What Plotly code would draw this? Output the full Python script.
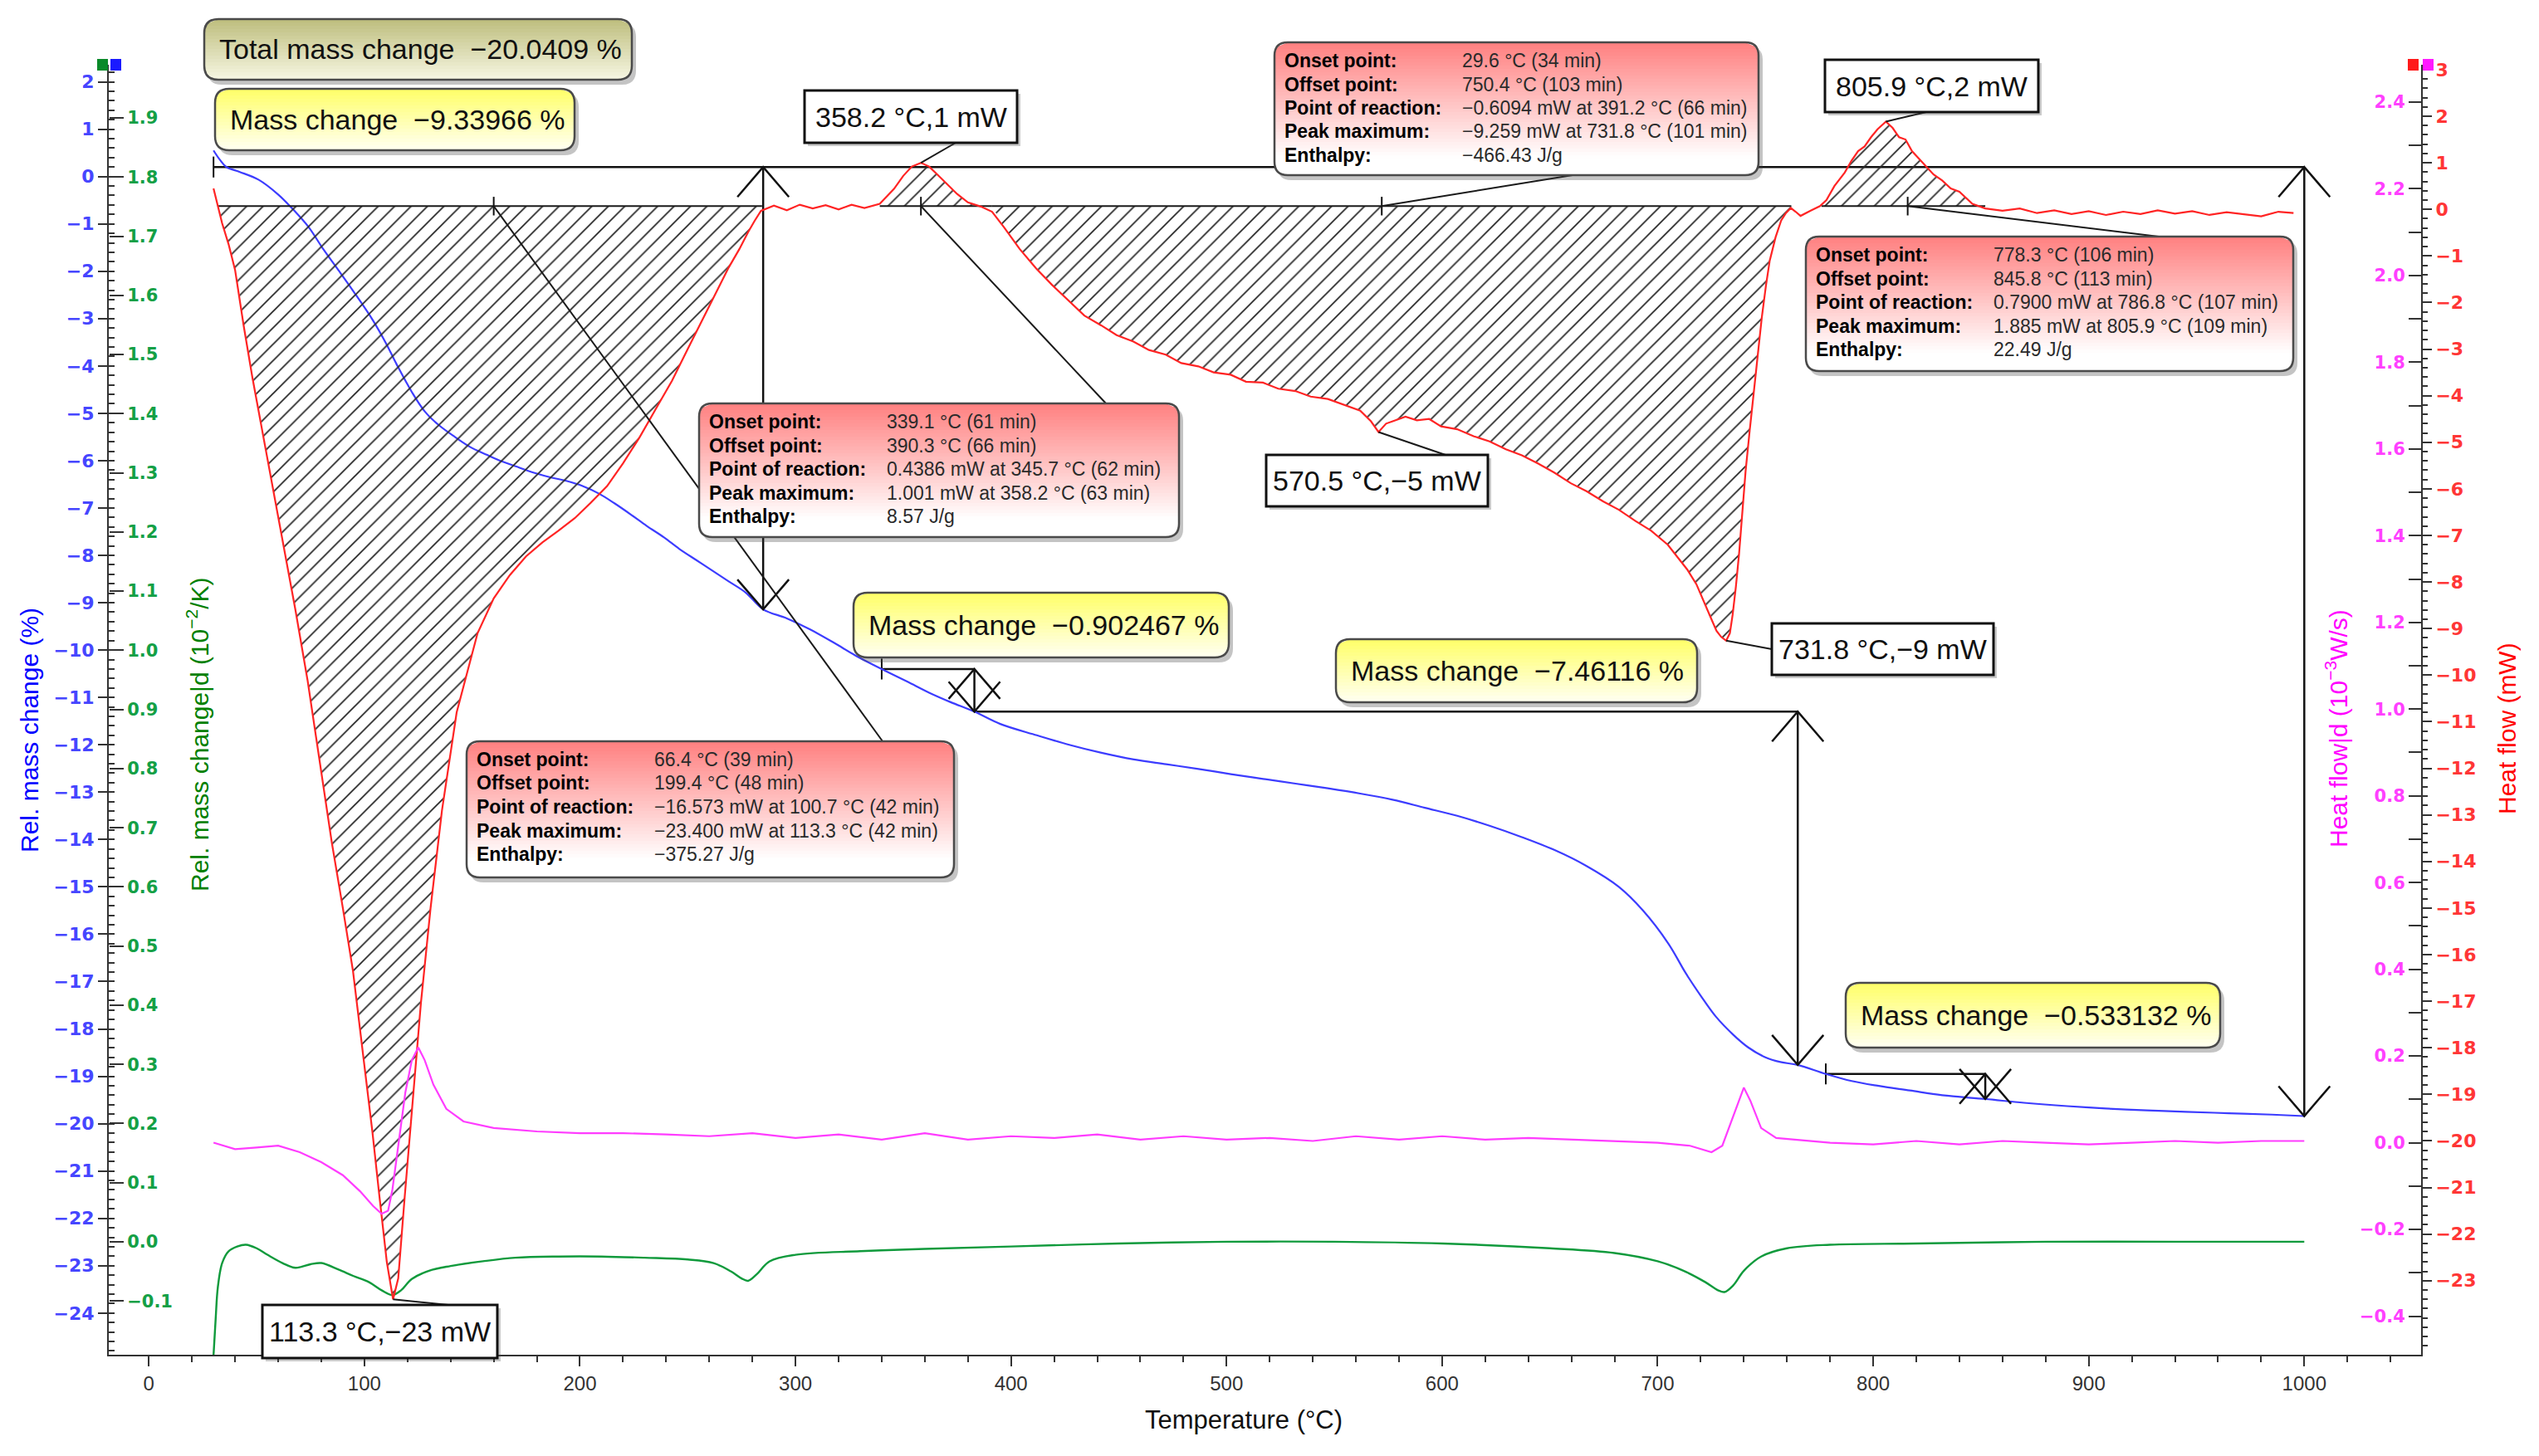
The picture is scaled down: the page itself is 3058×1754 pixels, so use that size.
import math
import plotly.graph_objects as go

W, H = 3058, 1754
PL, PR, PT, PB = 131, 2916, 78, 1632   # plot area in pixels

X_RANGE = [-18.6, 1054.2]
MASS_RANGE = [-24.88, 2.36]
DTG_RANGE = [-0.191, 1.990]
HF_RANGE = [-24.59, 3.105]
DHF_RANGE = [-0.489, 2.486]

# ---------------- data ----------------
TG_T = [30, 33, 36, 42, 51, 60, 66, 74, 81, 88,
        95, 104, 110, 115, 122, 128, 134, 142, 149, 157,
        164, 172, 179, 187, 194, 201, 209, 216, 224, 231,
        239, 246, 254, 262, 269, 277, 285, 296, 307, 318,
        328, 340, 352, 362, 372, 383, 395, 412, 427, 442,
        457, 472, 487, 502, 517, 532, 547, 562, 577, 592,
        607, 622, 637, 652, 667, 682, 693, 705, 713, 720,
        727, 735, 742, 750, 757, 765, 778, 790, 802, 817,
        832, 852, 870, 890, 908, 927, 945, 965, 985, 1000]
TG_V = [0.55, 0.35, 0.2, 0.1, -0.07, -0.38, -0.65, -1.06, -1.54, -1.98,
        -2.43, -3.04, -3.52, -3.97, -4.55, -4.96, -5.23, -5.5, -5.71, -5.88,
        -6.02, -6.15, -6.26, -6.36, -6.43, -6.53, -6.7, -6.9, -7.15, -7.38,
        -7.62, -7.86, -8.1, -8.34, -8.55, -8.79, -9.14, -9.33, -9.57, -9.85,
        -10.12, -10.4, -10.67, -10.9, -11.1, -11.3, -11.56, -11.8, -12.0, -12.17,
        -12.31, -12.41, -12.51, -12.62, -12.72, -12.82, -12.92, -13.03, -13.16, -13.33,
        -13.5, -13.71, -13.95, -14.22, -14.56, -15.0, -15.49, -16.2, -16.82, -17.3,
        -17.74, -18.12, -18.39, -18.6, -18.7, -18.76, -18.95, -19.1, -19.2, -19.3,
        -19.4, -19.48, -19.56, -19.63, -19.68, -19.72, -19.75, -19.78, -19.81, -19.84]

DTG_T = [30, 31, 32, 34, 37, 41, 45, 50, 55, 62,
         68, 75, 80, 88, 95, 102, 108, 113, 117, 122,
         130, 140, 155, 170, 190, 210, 230, 250, 262, 270,
         275, 278, 282, 288, 300, 330, 360, 400, 450, 500,
         550, 600, 650, 680, 700, 712, 722, 728, 731, 735,
         740, 748, 760, 780, 820, 880, 940, 1000]
DTG_V = [-0.192, -0.13, -0.077, -0.036, -0.016, -0.008, -0.005, -0.011, -0.022, -0.036,
         -0.044, -0.038, -0.036, -0.047, -0.058, -0.068, -0.082, -0.09, -0.082, -0.063,
         -0.049, -0.041, -0.033, -0.027, -0.025, -0.025, -0.027, -0.03, -0.036, -0.05,
         -0.062, -0.066, -0.055, -0.033, -0.022, -0.016, -0.012, -0.008, -0.003, 0.0,
         0.0, -0.003, -0.011, -0.019, -0.033, -0.049, -0.068, -0.082, -0.085, -0.074,
         -0.049, -0.025, -0.011, -0.005, -0.003, 0.0, 0.0, 0.0]

HF_T = [30, 32, 34, 37, 40, 44, 48, 52, 56, 60,
        64, 68, 73.6, 79, 84.9, 90, 94.7, 99, 103.7, 107,
        110.4, 113.3, 115.7, 118.7, 122.5, 126.2, 130.7, 136, 142.8, 152.5,
        160, 167.5, 175, 182.6, 190, 197.6, 205, 212.6, 220, 227.6,
        235, 242.7, 250, 257.7, 264, 269, 274, 278, 281, 284,
        290, 296, 302, 308, 314, 320, 326, 332, 339.1, 345.7,
        350, 354, 358.2, 362, 366, 370, 375, 380, 386, 391.2,
        396.7, 404, 411.7, 419, 426.7, 434, 441.8, 449, 456.8, 464,
        471.8, 479, 486.9, 494, 501.9, 509, 516.9, 524, 531.9, 539,
        547, 555, 562, 567, 570.5, 574, 578.5, 583, 588.3, 594,
        599.5, 607, 614.6, 622, 629.6, 637, 644.6, 652, 659.7, 667,
        674.7, 682, 689.7, 697, 704.7, 709, 713.7, 718, 721.3, 724.5,
        727.3, 729.5, 731.8, 733.5, 734.8, 736.3, 737.8, 739.3, 740.8, 742.7,
        744.6, 746.5, 748.3, 750.2, 752, 754.7, 757.3, 759.5, 761.8, 764,
        766.3, 770.8, 775.3, 778.3, 782, 786.8, 790, 793, 796, 799,
        802, 805.9, 809, 812, 815, 818, 821, 824, 828, 832,
        836, 840, 846, 852, 860, 868, 876, 884, 892, 900,
        908, 916, 924, 932, 940, 948, 956, 964, 972, 980,
        988, 995]
HF_MW = [0.45, 0.1, -0.3, -0.75, -1.3, -2.5, -3.6, -4.6, -5.6, -6.6,
         -7.6, -8.6, -10.1, -11.8, -13.6, -15.0, -16.35, -18.0, -19.8, -21.2,
         -22.6, -23.4, -22.95, -21.2, -19.1, -17.05, -15.0, -12.9, -10.8, -9.1,
         -8.35, -7.85, -7.45, -7.15, -6.9, -6.63, -6.3, -5.94, -5.45, -4.9,
         -4.3, -3.68, -3.0, -2.29, -1.7, -1.25, -0.85, -0.49, -0.25, -0.03,
         0.08, -0.02, 0.1, 0.02, 0.09, 0.0, 0.1, 0.03, 0.12, 0.44,
         0.72, 0.92, 1.0, 0.92, 0.74, 0.55, 0.33, 0.15, 0.06, -0.05,
         -0.38, -0.85, -1.27, -1.62, -1.96, -2.28, -2.49, -2.7, -2.84, -3.02,
         -3.12, -3.3, -3.37, -3.5, -3.55, -3.7, -3.72, -3.85, -3.9, -4.02,
         -4.07, -4.2, -4.32, -4.55, -4.78, -4.6, -4.53, -4.45, -4.53, -4.5,
         -4.66, -4.72, -4.87, -4.98, -5.15, -5.28, -5.46, -5.65, -5.88, -6.05,
         -6.27, -6.45, -6.69, -6.9, -7.2, -7.45, -7.73, -8.05, -8.42, -8.75,
         -9.05, -9.18, -9.26, -9.1, -8.7, -8.1, -7.38, -6.5, -5.62, -4.75,
         -3.89, -3.05, -2.33, -1.65, -1.1, -0.6, -0.24, -0.08, 0.03, -0.05,
         -0.14, -0.03, 0.07, 0.2, 0.5, 0.79, 1.05, 1.25, 1.35, 1.55,
         1.72, 1.885, 1.75, 1.55, 1.5, 1.25, 1.1, 0.95, 0.75, 0.62,
         0.45, 0.38, 0.12, 0.02, -0.03, 0.02, -0.08, -0.02, -0.1, -0.04,
         -0.12, -0.05, -0.1, -0.02, -0.09, -0.04, -0.12, -0.06, -0.1, -0.15,
         -0.05, -0.08]

DHF_T = [30, 35, 40, 50, 60, 70, 80, 90, 98, 104,
         108, 111, 113, 116, 119, 122, 125, 128, 132, 138,
         146, 160, 180, 200, 220, 240, 260, 280, 300, 320,
         340, 360, 380, 400, 420, 440, 460, 480, 500, 520,
         540, 560, 580, 600, 620, 640, 660, 680, 700, 715,
         725, 730, 735, 740, 743, 748, 755, 765, 780, 800,
         820, 840, 860, 880, 900, 920, 940, 960, 980, 1000]
DHF_V = [0.0, -0.007, -0.015, -0.011, -0.007, -0.022, -0.045, -0.075, -0.112, -0.146,
         -0.164, -0.157, -0.108, 0.004, 0.116, 0.19, 0.22, 0.19, 0.134, 0.078,
         0.049, 0.034, 0.026, 0.022, 0.022, 0.019, 0.015, 0.022, 0.011, 0.019,
         0.007, 0.022, 0.007, 0.015, 0.011, 0.019, 0.007, 0.015, 0.007, 0.011,
         0.004, 0.015, 0.007, 0.015, 0.007, 0.011, 0.007, 0.004, 0.0, -0.007,
         -0.022, -0.007, 0.06, 0.127, 0.097, 0.034, 0.011, 0.007, 0.0, -0.004,
         0.004, -0.004, 0.004, 0.0, -0.004, 0.0, 0.004, 0.0, 0.004, 0.004]

# DSC peak integration
HF_BASELINE = 0.07
HATCH_REGIONS = [(32, 284.5), (339.1, 391.2), (391.2, 762), (776, 852)]
PEAK_ANCHOR_T = [358.2, 572, 816, 160]       # where the result boxes point to

# TG step evaluation (rel. mass change %)
GUIDE_LINES = [(30, 1000, 0.2), (340, 383, -10.4), (383, 765, -11.3), (778, 852, -18.95)]
STEP_ARROWS = [(285, 0.2, -9.14), (383, -10.4, -11.3), (765, -11.3, -18.76),
               (852, -18.95, -19.48), (1000, 0.2, -19.84)]
GUIDE_TICK_T = [30, 340, 778]
GUIDE_TICK_V = [0.2, -10.4, -18.95]

MASS_LABELS = ["Total mass change\u00a0 \u221220.0409 %", "Mass change\u00a0 \u22129.33966 %",
               "Mass change\u00a0 \u22120.902467 %", "Mass change\u00a0 \u22127.46116 %",
               "Mass change\u00a0 \u22120.533132 %"]

PEAK_TEXT = ["358.2 \u00b0C,1 mW", "570.5 \u00b0C,\u22125 mW", "805.9 \u00b0C,2 mW",
             "731.8 \u00b0C,\u22129 mW", "113.3 \u00b0C,\u221223 mW"]
PEAK_T = [358.2, 570.5, 805.9, 731.8, 113.3]
PEAK_MW = [1.0, -4.78, 1.885, -9.26, -23.4]

ROW_LABELS = ["Onset point:", "Offset point:", "Point of reaction:", "Peak maximum:", "Enthalpy:"]
RESULT_A = ["339.1 \u00b0C (61 min)", "390.3 \u00b0C (66 min)", "0.4386 mW at 345.7 \u00b0C (62 min)",
            "1.001 mW at 358.2 \u00b0C (63 min)", "8.57 J/g"]
RESULT_B = ["29.6 \u00b0C (34 min)", "750.4 \u00b0C (103 min)", "\u22120.6094 mW at 391.2 \u00b0C (66 min)",
            "\u22129.259 mW at 731.8 \u00b0C (101 min)", "\u2212466.43 J/g"]
RESULT_C = ["778.3 \u00b0C (106 min)", "845.8 \u00b0C (113 min)", "0.7900 mW at 786.8 \u00b0C (107 min)",
            "1.885 mW at 805.9 \u00b0C (109 min)", "22.49 J/g"]
RESULT_D = ["66.4 \u00b0C (39 min)", "199.4 \u00b0C (48 min)", "\u221216.573 mW at 100.7 \u00b0C (42 min)",
            "\u221223.400 mW at 113.3 \u00b0C (42 min)", "\u2212375.27 J/g"]

# ---------------- layout helpers (pixel positions of decorations) ----------------
def fx(px):
    return px / W

def fy(py):
    return 1 - py / H

def d2px_x(t):
    return PL + (t - X_RANGE[0]) / (X_RANGE[1] - X_RANGE[0]) * (PR - PL)

def d2px_y(v, rng):
    return PB - (v - rng[0]) / (rng[1] - rng[0]) * (PB - PT)

def lerp_color(c0, c1, t):
    t = max(0.0, min(1.0, t))
    a = [int(c0[i:i + 2], 16) for i in (1, 3, 5)]
    b = [int(c1[i:i + 2], 16) for i in (1, 3, 5)]
    return 'rgb(%d,%d,%d)' % tuple(round(a[k] + (b[k] - a[k]) * t) for k in range(3))

def P(x, y):
    return "%.6f,%.6f" % (fx(x), fy(y))

def rr_path(x0, y0, x1, y1, r):
    return ("M" + P(x0 + r, y0) + " L" + P(x1 - r, y0) + " Q" + P(x1, y0) + " " + P(x1, y0 + r) +
            " L" + P(x1, y1 - r) + " Q" + P(x1, y1) + " " + P(x1 - r, y1) +
            " L" + P(x0 + r, y1) + " Q" + P(x0, y1) + " " + P(x0, y1 - r) +
            " L" + P(x0, y0 + r) + " Q" + P(x0, y0) + " " + P(x0 + r, y0) + " Z")

def inset(y, y0, y1, r):
    if y < y0 + r:
        d = y0 + r - y
    elif y > y1 - r:
        d = y - (y1 - r)
    else:
        return 0.0
    d = min(d, r)
    return r - math.sqrt(max(r * r - d * d, 0))

shapes = []
annots = []

def add_round_box(box, c_top, c_bot, r=15, step=4, speed=1.0):
    x0, y0, x1, y1 = box
    shapes.append(dict(type='path', xref='paper', yref='paper', layer='above',
                       path=rr_path(x0 + 4, y0 + 5, x1 + 5, y1 + 6, r),
                       fillcolor='rgba(60,60,60,0.30)', line=dict(width=0)))
    shapes.append(dict(type='path', xref='paper', yref='paper', layer='above',
                       path=rr_path(x0, y0, x1, y1, r), fillcolor=c_bot, line=dict(width=0)))
    n = int(math.ceil((y1 - y0) / step))
    for k in range(n):
        ya = y0 + k * step
        yb = min(y1, ya + step + 1)
        ia = inset(ya, y0, y1, r)
        ib = inset(yb, y0, y1, r)
        t = ((ya + yb) / 2 - y0) / (y1 - y0) * speed
        path = ("M" + P(x0 + ia, ya) + " L" + P(x1 - ia, ya) + " L" + P(x1 - ib, yb) +
                " L" + P(x0 + ib, yb) + " Z")
        shapes.append(dict(type='path', xref='paper', yref='paper', layer='above', path=path,
                           fillcolor=lerp_color(c_top, c_bot, t), line=dict(width=0)))
    shapes.append(dict(type='path', xref='paper', yref='paper', layer='above',
                       path=rr_path(x0, y0, x1, y1, r), fillcolor='rgba(0,0,0,0)',
                       line=dict(color='#4a4a4a', width=2.5)))

def add_plain_box(box):
    x0, y0, x1, y1 = box
    shapes.append(dict(type='rect', xref='paper', yref='paper', layer='above',
                       x0=fx(x0 + 4), x1=fx(x1 + 4), y0=fy(y1 + 4), y1=fy(y0 + 4),
                       fillcolor='rgba(80,80,80,0.30)', line=dict(width=0)))
    shapes.append(dict(type='rect', xref='paper', yref='paper', layer='above',
                       x0=fx(x0), x1=fx(x1), y0=fy(y1), y1=fy(y0),
                       fillcolor='white', line=dict(color='#111111', width=3)))

def leader(px0, py0, px1, py1):
    shapes.append(dict(type='line', xref='paper', yref='paper', layer='above',
                       x0=fx(px0), y0=fy(py0), x1=fx(px1), y1=fy(py1),
                       line=dict(color='#1a1a1a', width=2)))

def text(px, py, s, size=32, anchor='left', color='#111111', family='Liberation Sans', angle=0):
    annots.append(dict(xref='paper', yref='paper', x=fx(px), y=fy(py), text=s, showarrow=False,
                       xanchor=anchor, yanchor='middle', textangle=angle,
                       font=dict(family=family, size=size, color=color)))

# ---------------- traces ----------------
fig = go.Figure()

for (t0, t1) in HATCH_REGIONS:
    xs = [t0] + [t for t in HF_T if t0 < t < t1] + [t1]
    ys = [HF_BASELINE] + [v for t, v in zip(HF_T, HF_MW) if t0 < t < t1] + [HF_BASELINE]
    fig.add_trace(go.Scatter(x=xs, y=ys, yaxis='y3', mode='lines', fill='toself',
                             fillcolor='rgba(0,0,0,0)', line=dict(width=0),
                             fillpattern=dict(shape='/', fgcolor='#2a2a2a', bgcolor='rgba(0,0,0,0)',
                                              size=14, solidity=0.13),
                             hoverinfo='skip', showlegend=False))

bx, by = [], []
for (t0, t1) in HATCH_REGIONS:
    bx += [t0, t1, None]
    by += [HF_BASELINE, HF_BASELINE, None]
fig.add_trace(go.Scatter(x=bx, y=by, yaxis='y3', mode='lines',
                         line=dict(color='#1a1a1a', width=2), showlegend=False))

# TG step guide lines and arrow shafts
gx, gy = [], []
for (t0, t1, v) in GUIDE_LINES:
    gx += [t0, t1, None]
    gy += [v, v, None]
for (t, top, bot) in STEP_ARROWS:
    gx += [t, t, None]
    gy += [top, bot, None]
fig.add_trace(go.Scatter(x=gx, y=gy, yaxis='y', mode='lines',
                         line=dict(color='#111111', width=2.5), showlegend=False))
fig.add_trace(go.Scatter(x=GUIDE_TICK_T, y=GUIDE_TICK_V, yaxis='y', mode='markers',
                         marker=dict(symbol='line-ns', size=18, line=dict(color='#111111', width=2)),
                         showlegend=False))

fig.add_trace(go.Scatter(x=TG_T, y=TG_V, yaxis='y', mode='lines', line_shape='spline',
                         line=dict(color='#3c3cff', width=2.2), showlegend=False))
fig.add_trace(go.Scatter(x=DTG_T, y=DTG_V, yaxis='y2', mode='lines', line_shape='spline',
                         line=dict(color='#109a3c', width=2.4), showlegend=False))
fig.add_trace(go.Scatter(x=HF_T, y=HF_MW, yaxis='y3', mode='lines',
                         line=dict(color='#ff2424', width=2.2), showlegend=False))
fig.add_trace(go.Scatter(x=PEAK_ANCHOR_T, y=[HF_BASELINE] * len(PEAK_ANCHOR_T), yaxis='y3',
                         mode='markers',
                         marker=dict(symbol='line-ns', size=16, line=dict(color='#111111', width=2)),
                         showlegend=False))
fig.add_trace(go.Scatter(x=DHF_T, y=DHF_V, yaxis='y4', mode='lines',
                         line=dict(color='#ff3cff', width=2.2), showlegend=False))

# ---------------- decorations ----------------
# arrow heads (open V) at step ends
for (t, top, bot) in STEP_ARROWS:
    for (v, sgn) in ((top, -1), (bot, 1)):
        shapes.append(dict(type='path', xref='x', yref='y', xsizemode='pixel', ysizemode='pixel',
                           xanchor=t, yanchor=v, layer='above',
                           path='M-31,%d L0,0 L31,%d' % (sgn * 36, sgn * 36),
                           line=dict(color='#111111', width=2.5)))

# axis corner squares
for (x0, c) in ((117, '#0a8a2a'), (133, '#1a1aff'), (2900, '#ff1a1a'), (2918, '#ff1aff')):
    shapes.append(dict(type='rect', xref='paper', yref='paper', layer='above',
                       x0=fx(x0), x1=fx(x0 + 13), y0=fy(85), y1=fy(71),
                       fillcolor=c, line=dict(width=0)))

# value boxes (peak labels) : box rectangle, tail point
PEAK_BOX = [(969, 109, 1225, 172), (1525, 548, 1792, 610), (2198, 72, 2455, 135),
            (2134, 751, 2401, 813), (316, 1572, 599, 1636)]
PEAK_TAIL = [(1151, 172), (1741, 548), (2320, 135), (2134, 782), (540, 1572)]

RESULT_BOX = [(842, 486, 1420, 647), (1535, 51, 2118, 211), (2175, 285, 2762, 447),
              (562, 893, 1149, 1057)]
RESULT_TAIL = [(1332, 486), (1894, 211), (2600, 285), (1063, 893)]
RESULTS = [RESULT_A, RESULT_B, RESULT_C, RESULT_D]

MASS_BOX = [(246, 23, 761, 96), (259, 107, 692, 181), (1028, 714, 1480, 792),
            (1609, 770, 2044, 846), (2223, 1184, 2674, 1262)]

# leader lines first (below boxes)
for t, (tx, ty) in zip(PEAK_ANCHOR_T, RESULT_TAIL):
    leader(d2px_x(t), d2px_y(HF_BASELINE, HF_RANGE), tx, ty)
for t, v, (tx, ty) in zip(PEAK_T, PEAK_MW, PEAK_TAIL):
    leader(d2px_x(t), d2px_y(v, HF_RANGE), tx, ty)

for box, rows in zip(RESULT_BOX, RESULTS):
    add_round_box(box, '#ff7f7f', '#ffffff', r=16, step=4, speed=1.15)
    x0, y0 = box[0], box[1]
    for i, (lab, val) in enumerate(zip(ROW_LABELS, rows)):
        yy = y0 + 22 + 28.5 * i
        text(x0 + 10, yy, '<b>' + lab + '</b>', size=23, color='#000000')
        text(x0 + 224, yy, val, size=23, color='#2a2a2a')

for i, (box, s) in enumerate(zip(MASS_BOX, MASS_LABELS)):
    if i == 0:
        add_round_box(box, '#bdbd7c', '#f6f6e2', r=17, step=4)
    else:
        add_round_box(box, '#ffff66', '#fffff2', r=17, step=4)
    text(box[0] + 16, (box[1] + box[3]) / 2, s, size=34)

for box, s in zip(PEAK_BOX, PEAK_TEXT):
    add_plain_box(box)
    text((box[0] + box[2]) / 2, (box[1] + box[3]) / 2, s, size=34, anchor='center')

# axis titles
text(35, 880, 'Rel. mass change (%)', size=30, anchor='center', color='#0000ff', angle=-90)
text(238, 884, 'Rel. mass change|d (10<sup>\u22122</sup>/K)', size=30, anchor='center',
     color='#008000', angle=-90)
text(2814, 878, 'Heat flow|d (10<sup>\u22123</sup>W/s)', size=30, anchor='center',
     color='#ff00ff', angle=-90)
text(3019, 878, 'Heat flow (mW)', size=30, anchor='center', color='#ff0000', angle=-90)
text(1498, 1710, 'Temperature (\u00b0C)', size=31, anchor='center', color='#111111')

# ---------------- axes ----------------
AX = '#333333'
tick_font = lambda c, s=21: dict(family='DejaVu Sans', size=s, color=c, weight='bold')

fig.update_layout(
    template='none',
    width=W, height=H,
    margin=dict(l=0, r=0, t=0, b=0, pad=0),
    paper_bgcolor='white', plot_bgcolor='white',
    showlegend=False, hovermode=False,
    font=dict(family='Liberation Sans', color='#111111'),
    xaxis=dict(domain=[fx(PL), fx(PR)], range=X_RANGE, anchor='y', showgrid=False, zeroline=False,
               showline=True, linecolor=AX, linewidth=2, ticks='outside', ticklen=12, tickwidth=2,
               tickcolor=AX, tick0=0, dtick=100, automargin=False,
               tickfont=dict(family='Liberation Sans', size=24, color='#333333'),
               minor=dict(ticks='outside', dtick=20, ticklen=7, tickwidth=1.5, tickcolor=AX)),
    yaxis=dict(domain=[fy(PB), fy(PT)], range=MASS_RANGE, anchor='x', side='left',
               showgrid=False, zeroline=False, showline=True, linecolor=AX, linewidth=2,
               ticks='outside', ticklen=11, tickwidth=2, tickcolor=AX, tick0=0, dtick=1,
               automargin=False, tickfont=tick_font('#4646ff', 22),
               minor=dict(ticks='inside', dtick=0.2, ticklen=7, tickwidth=1.5, tickcolor=AX)),
    # green derivative axis: drawn on the left axis line, labels to its right
    yaxis2=dict(overlaying='y', side='right', anchor='free', position=fx(PL), range=DTG_RANGE,
                showgrid=False, zeroline=False, showline=False, ticks='outside', ticklen=17,
                tickwidth=2, tickcolor=AX, tick0=0, dtick=0.1, tickformat='.1f',
                automargin=False, tickfont=tick_font('#14a046', 21)),
    yaxis3=dict(overlaying='y', side='right', anchor='x', range=HF_RANGE, showgrid=False,
                zeroline=False, showline=True, linecolor=AX, linewidth=2, ticks='outside',
                ticklen=11, tickwidth=2, tickcolor=AX, tickvals=list(range(-23, 4)),
                automargin=False, tickfont=tick_font('#ff3636', 22),
                minor=dict(ticks='outside', dtick=0.2, ticklen=6, tickwidth=1.5, tickcolor=AX)),
    # magenta derivative axis: drawn on the right axis line, labels to its left
    yaxis4=dict(overlaying='y', side='left', anchor='free', position=fx(PR), range=DHF_RANGE,
                showgrid=False, zeroline=False, showline=False, ticks='outside', ticklen=15,
                tickwidth=2, tickcolor=AX, tick0=0, dtick=0.2, tickformat='.1f',
                automargin=False, tickfont=tick_font('#ff40ff', 21),
                minor=dict(ticks='outside', dtick=0.1, ticklen=15, tickwidth=2, tickcolor=AX)),
    shapes=shapes,
    annotations=annots,
)

fig.write_html("out.html", config={'displayModeBar': False})
